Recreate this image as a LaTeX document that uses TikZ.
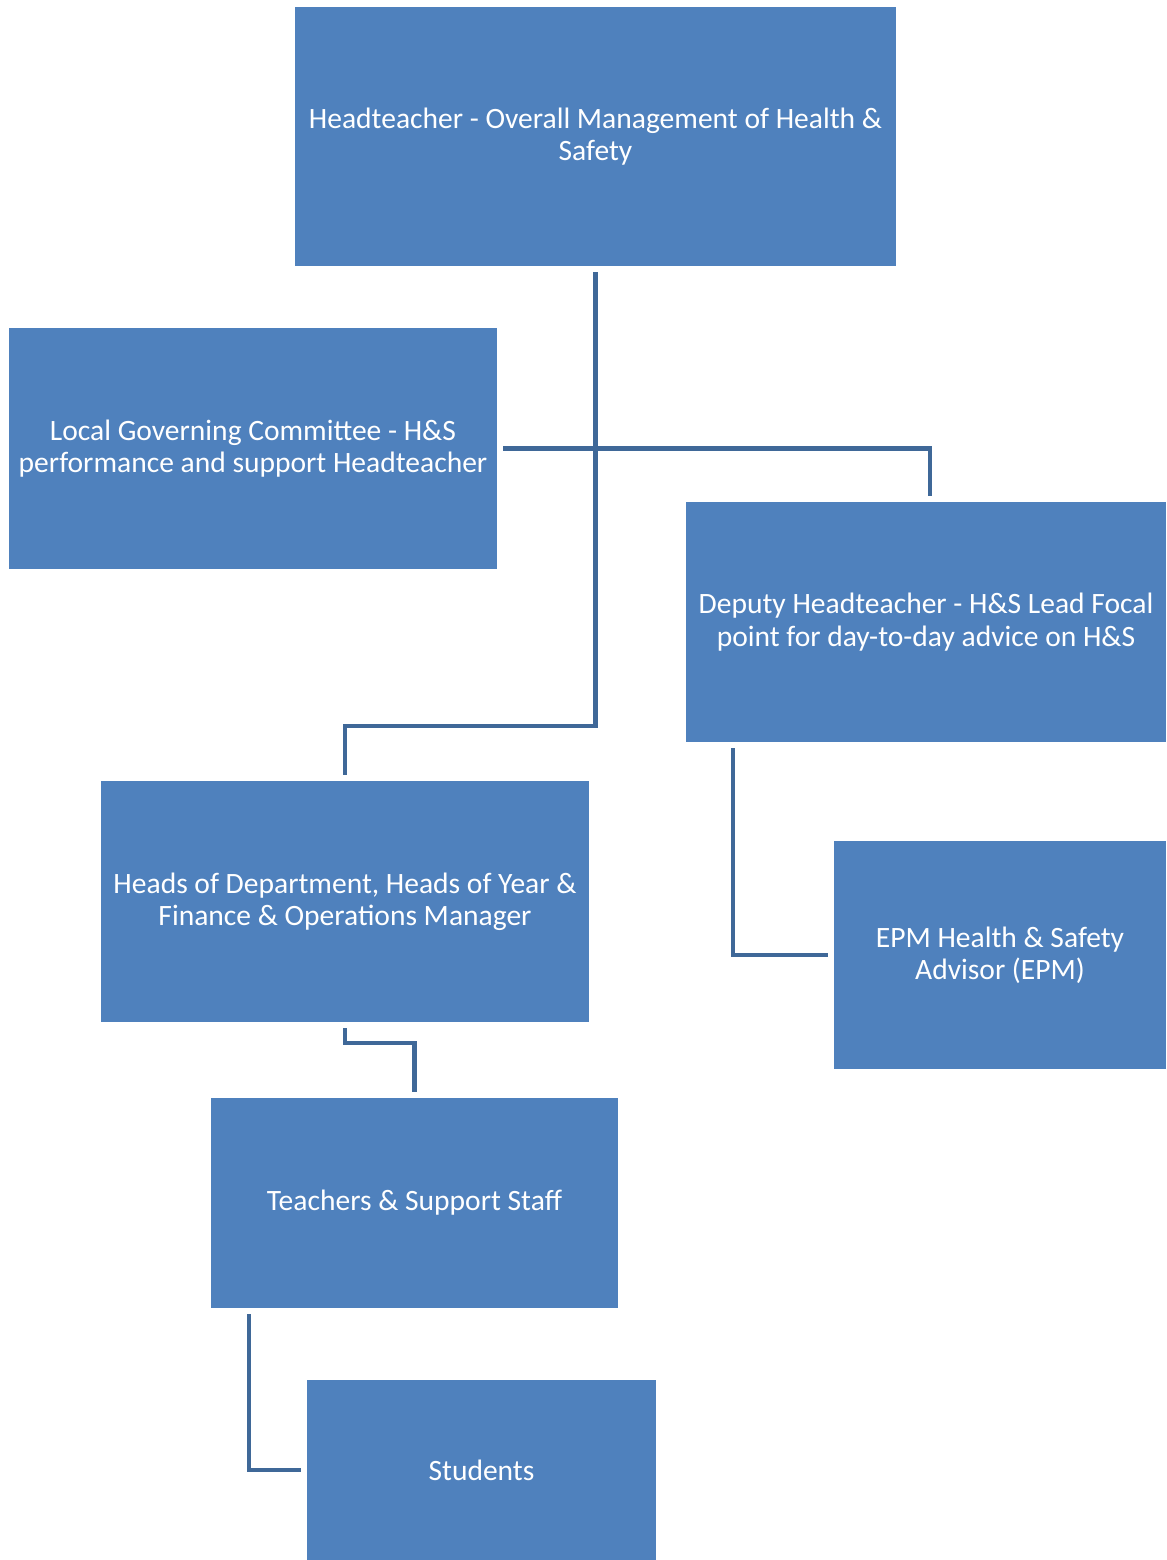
\documentclass[tikz,border=0pt]{standalone}
\usepackage{fontspec}
\setmainfont{Carlito}
\definecolor{boxblue}{HTML}{4F81BD}
\definecolor{linkblue}{HTML}{3F6898}
\begin{document}
\begin{tikzpicture}[x=0.01cm,y=-0.01cm,
	box/.style={fill=boxblue,text=white,align=center,inner sep=0pt,outer sep=0.06cm,font=\fontsize{8.4}{9.2}\selectfont},
	link/.style={draw=linkblue,line width=1.2pt}]
	\useasboundingbox (0, 0) rectangle (1166, 1560);
	\node[box,minimum width=6.01cm,minimum height=2.59cm] (head) at (595.5, 136.5) {Headteacher - Overall Management of Health \&\\Safety};
	\node[box,minimum width=4.88cm,minimum height=2.41cm] (lgc) at (253, 448.5) {Local Governing Committee - H\&S\\performance and support Headteacher};
	\node[box,minimum width=4.80cm,minimum height=2.40cm] (dep) at (926, 622) {Deputy Headteacher - H\&S Lead Focal\\point for day-to-day advice on H\&S};
	\node[box,minimum width=4.88cm,minimum height=2.41cm] (hod) at (345, 901.5) {Heads of Department, Heads of Year \&\\Finance \& Operations Manager};
	\node[box,minimum width=3.32cm,minimum height=2.28cm] (epm) at (1000, 955) {EPM Health \& Safety\\Advisor (EPM)};
	\node[box,minimum width=4.07cm,minimum height=2.10cm] (staff) at (414.5, 1203) {Teachers \& Support Staff};
	\node[box,minimum width=3.49cm,minimum height=1.80cm] (pupils) at (481.5, 1470) {Students};
	\coordinate (trunk) at (595.5, 726);
	\draw[link] (head.south) -- (trunk) -| (hod.north);
	\draw[link] (lgc.east) -| ([xshift=0.04cm]dep.north);
	\draw[link] ([xshift=0.53cm]dep.south west) |- (epm.west);
	\draw[link] (hod.south) -- ++(0, 15) -| (staff.north);
	\draw[link] ([xshift=0.44cm]staff.south west) |- (pupils.west);
\end{tikzpicture}
\end{document}
